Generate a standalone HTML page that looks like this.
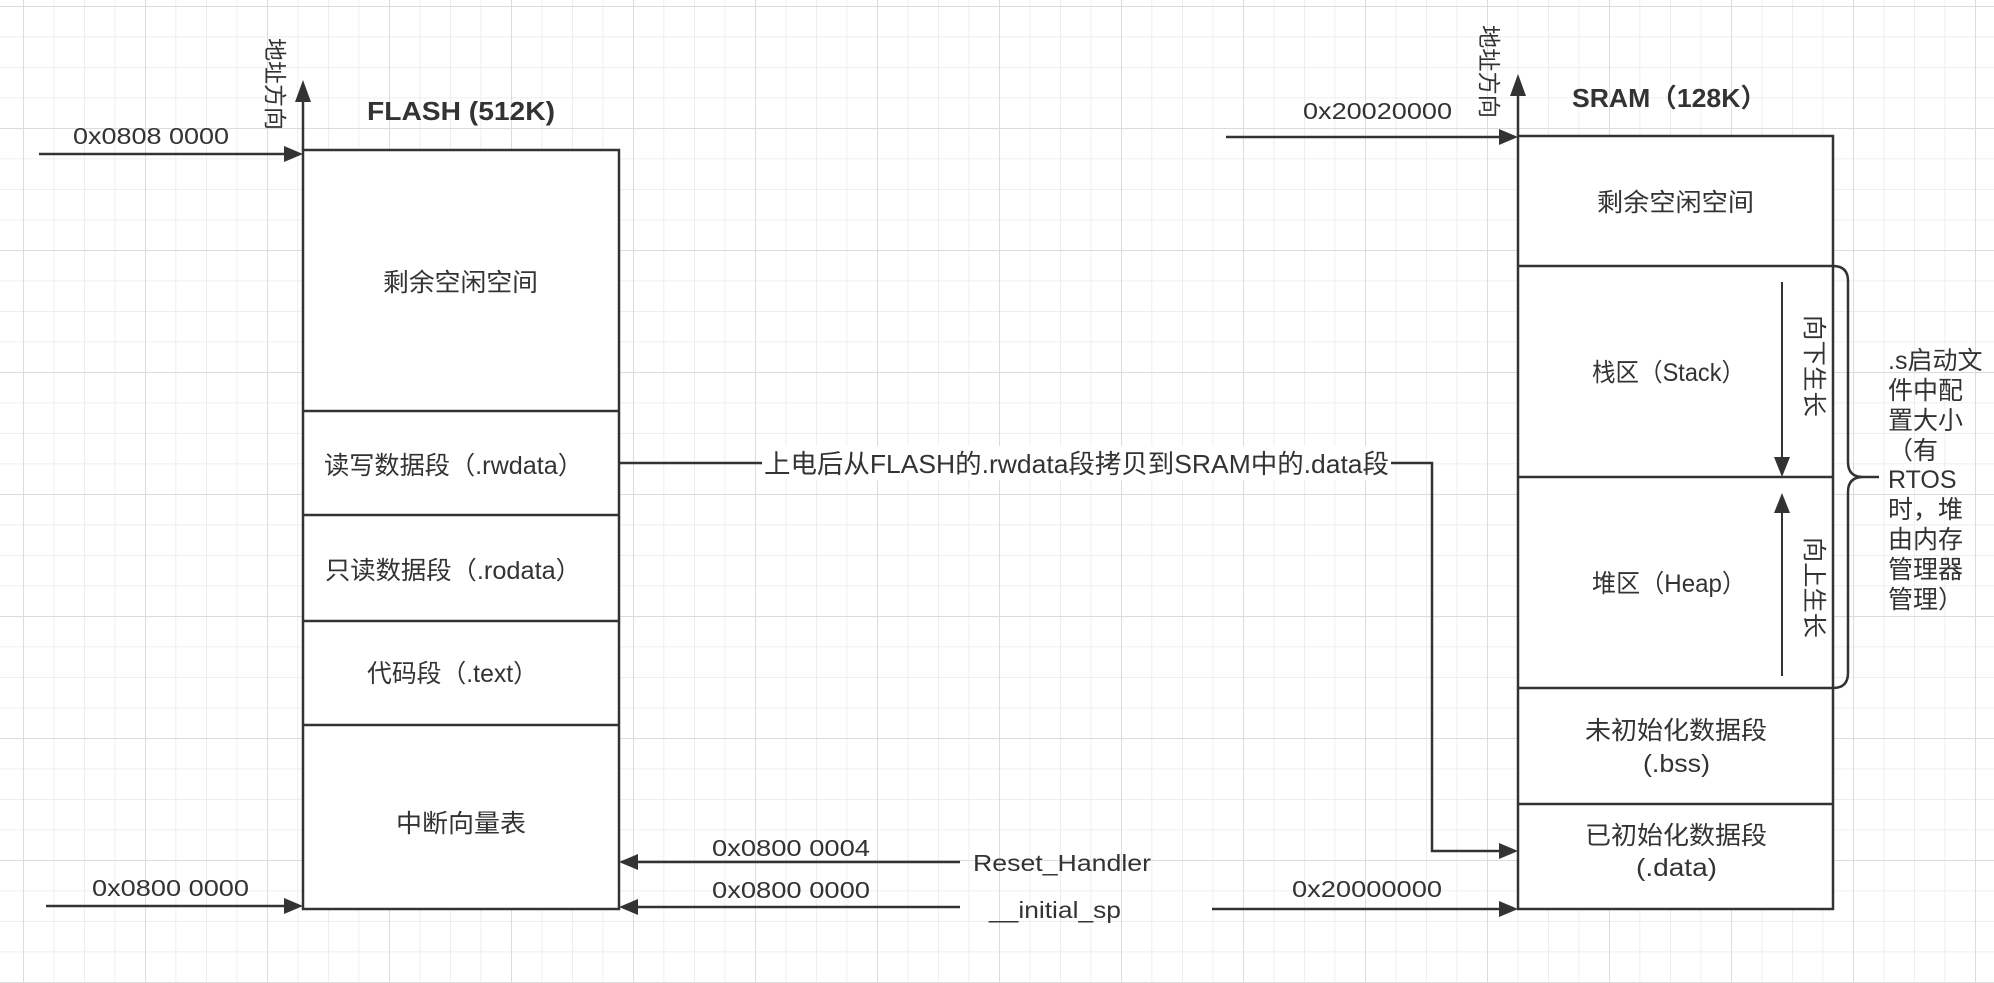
<!DOCTYPE html>
<html><head><meta charset="utf-8"><style>
html,body{margin:0;padding:0;background:#fff;}
svg{display:block;}
text{font-family:"Liberation Sans","Noto Sans CJK SC",sans-serif;fill:#333;}
</style></head><body>
<svg width="1994" height="983" viewBox="0 0 1994 983" xmlns="http://www.w3.org/2000/svg">
<defs>
<pattern id="minor" x="23" y="6" width="30.5" height="30.5" patternUnits="userSpaceOnUse">
<path d="M0 0 V30.5 M0 0 H30.5" stroke="#e9e9e9" stroke-width="1.5" fill="none"/>
</pattern>
<pattern id="major" x="23" y="6" width="122" height="122" patternUnits="userSpaceOnUse">
<path d="M0 0 V122 M0 0 H122" stroke="#dcdcdc" stroke-width="2" fill="none"/>
</pattern>
</defs>
<rect width="1994" height="983" fill="#fff"/>
<rect width="1994" height="983" fill="url(#minor)"/>
<rect width="1994" height="983" fill="url(#major)"/>

<g stroke="#333" stroke-width="2.5" fill="none">
<rect x="303" y="150" width="316" height="759" fill="#fff"/>
<line x1="303" y1="411" x2="619" y2="411"/>
<line x1="303" y1="515" x2="619" y2="515"/>
<line x1="303" y1="621" x2="619" y2="621"/>
<line x1="303" y1="725" x2="619" y2="725"/>
<rect x="1518" y="136" width="315" height="773" fill="#fff"/>
<line x1="1518" y1="266" x2="1833" y2="266"/>
<line x1="1518" y1="477" x2="1833" y2="477"/>
<line x1="1518" y1="688" x2="1833" y2="688"/>
<line x1="1518" y1="804" x2="1833" y2="804"/>
<line x1="303" y1="150" x2="303" y2="100"/>
<line x1="1518" y1="136" x2="1518" y2="88"/>
<line x1="39" y1="154" x2="290" y2="154"/>
<line x1="46" y1="906" x2="290" y2="906"/>
<line x1="960" y1="862" x2="632" y2="862"/>
<line x1="960" y1="907" x2="632" y2="907"/>
<line x1="1226" y1="137" x2="1505" y2="137"/>
<line x1="1212" y1="909" x2="1505" y2="909"/>
<polyline points="619,463 1432,463 1432,851 1505,851"/>
<line x1="1782" y1="282" x2="1782" y2="462" stroke-width="2"/>
<line x1="1782" y1="676" x2="1782" y2="508" stroke-width="2"/>
<path d="M1833,266 Q1848,266 1848,281 L1848,462 Q1848,477 1863,477 L1879,477 M1879,477 L1863,477 Q1848,477 1848,492 L1848,673 Q1848,688 1833,688"/>
</g>
<g fill="#333">
<polygon points="303,80 295,102 311,102"/>
<polygon points="1518,74 1510,96 1526,96"/>
<polygon points="303,154 284,146 284,162"/>
<polygon points="303,906 284,898 284,914"/>
<polygon points="619,862 638,854 638,870"/>
<polygon points="619,907 638,899 638,915"/>
<polygon points="1518,137 1499,129 1499,145"/>
<polygon points="1518,909 1499,901 1499,917"/>
<polygon points="1518,851 1499,843 1499,859"/>
<polygon points="1782,477 1774,457 1790,457"/>
<polygon points="1782,493 1774,513 1790,513"/>
</g>
<rect x="762" y="446" width="629" height="34" fill="#fff"/>
<text x="764" y="473" font-size="26" textLength="625" lengthAdjust="spacingAndGlyphs">上电后从FLASH的.rwdata段拷贝到SRAM中的.data段</text>

<text x="367" y="120" font-size="26" font-weight="bold" textLength="188" lengthAdjust="spacingAndGlyphs">FLASH (512K)</text>
<text x="1572" y="107" font-size="26" font-weight="bold" textLength="195" lengthAdjust="spacingAndGlyphs">SRAM（128K）</text>

<g font-size="23">
<text x="73" y="144" textLength="156" lengthAdjust="spacingAndGlyphs">0x0808 0000</text>
<text x="92" y="896" textLength="157" lengthAdjust="spacingAndGlyphs">0x0800 0000</text>
<text x="712" y="856" textLength="158" lengthAdjust="spacingAndGlyphs">0x0800 0004</text>
<text x="712" y="898" textLength="158" lengthAdjust="spacingAndGlyphs">0x0800 0000</text>
<text x="973" y="871" textLength="178" lengthAdjust="spacingAndGlyphs">Reset_Handler</text>
<text x="989" y="918" textLength="132" lengthAdjust="spacingAndGlyphs">__initial_sp</text>
<text x="1303" y="119" textLength="149" lengthAdjust="spacingAndGlyphs">0x20020000</text>
<text x="1292" y="897" textLength="150" lengthAdjust="spacingAndGlyphs">0x20000000</text>
</g>

<g font-size="25">
<text x="383" y="291" textLength="155" lengthAdjust="spacingAndGlyphs">剩余空闲空间</text>
<text x="324" y="474" textLength="259" lengthAdjust="spacingAndGlyphs">读写数据段（.rwdata）</text>
<text x="325" y="579" textLength="256" lengthAdjust="spacingAndGlyphs">只读数据段（.rodata）</text>
<text x="367" y="682" textLength="171" lengthAdjust="spacingAndGlyphs">代码段（.text）</text>
<text x="396" y="832" textLength="130" lengthAdjust="spacingAndGlyphs">中断向量表</text>
<text x="1597" y="211" textLength="157" lengthAdjust="spacingAndGlyphs">剩余空闲空间</text>
<text x="1592" y="381" textLength="153" lengthAdjust="spacingAndGlyphs">栈区（Stack）</text>
<text x="1592" y="592" textLength="154" lengthAdjust="spacingAndGlyphs">堆区（Heap）</text>
<text x="1585" y="739" textLength="182" lengthAdjust="spacingAndGlyphs">未初始化数据段</text>
<text x="1643" y="772" textLength="67" lengthAdjust="spacingAndGlyphs">(.bss)</text>
<text x="1585" y="844" textLength="182" lengthAdjust="spacingAndGlyphs">已初始化数据段</text>
<text x="1636" y="876" textLength="81" lengthAdjust="spacingAndGlyphs">(.data)</text>
</g>

<g font-size="23">
<text transform="translate(267,38) rotate(90)" textLength="92" lengthAdjust="spacingAndGlyphs">地址方向</text>
<text transform="translate(1481,25) rotate(90)" textLength="93" lengthAdjust="spacingAndGlyphs">地址方向</text>
</g>
<g font-size="24">
<text transform="translate(1806,315) rotate(90)" textLength="102" lengthAdjust="spacingAndGlyphs">向下生长</text>
<text transform="translate(1806,537) rotate(90)" textLength="101" lengthAdjust="spacingAndGlyphs">向上生长</text>
</g>

<g font-size="25">
<text x="1888" y="369">.s启动文</text>
<text x="1888" y="399">件中配</text>
<text x="1888" y="429">置大小</text>
<text x="1888" y="459">（有</text>
<text x="1888" y="488">RTOS</text>
<text x="1888" y="518">时，堆</text>
<text x="1888" y="548">由内存</text>
<text x="1888" y="578">管理器</text>
<text x="1888" y="608">管理）</text>
</g>
</svg>
</body></html>
